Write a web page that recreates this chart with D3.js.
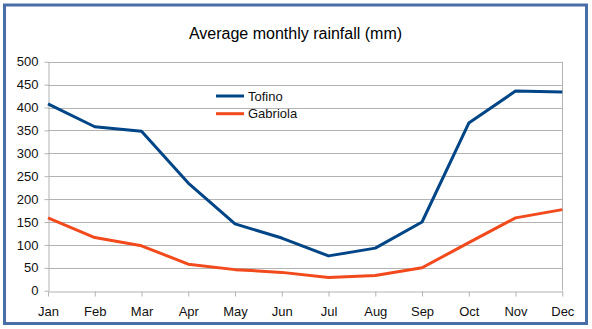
<!DOCTYPE html>
<html><head><meta charset="utf-8">
<script src="https://cdn.jsdelivr.net/npm/d3@7"></script>
<style>body{margin:0;background:#fff}svg{display:block;font-family:"Liberation Sans",Arial,sans-serif}</style>
</head><body><svg id="c" width="592" height="329"></svg>
<script>
const months = ["Jan","Feb","Mar","Apr","May","Jun","Jul","Aug","Sep","Oct","Nov","Dec"];
const tofino = [408,358,348,235,146,115,76,93,150,366,436,434];
const gabriola = [159,116,98,58,46,40,29,33,50,105,159,177];
const yTicks = [0,50,100,150,200,250,300,350,400,450,500];
const seriesNames = ["Tofino","Gabriola"];
const colors = ["#004586","#f24a1c"];

const svg = d3.select("#c");
svg.append("rect").attr("x",4.5).attr("y",5).attr("width",582).attr("height",318.5)
  .attr("fill","#fff").attr("stroke","#4a6fa8").attr("stroke-width",3);

const x = d3.scalePoint().domain(months).range([48,562.3]);
const y = d3.scaleLinear().domain([0,500]).range([290.7,61.7]);

svg.append("text").attr("x",295.5).attr("y",39).attr("text-anchor","middle")
  .attr("font-size",16).attr("fill","#000").text("Average monthly rainfall (mm)");

// grid
svg.append("g").selectAll("line").data(yTicks.filter(d=>d>0)).join("line")
  .attr("x1",48).attr("x2",562.3).attr("y1",d=>Math.round(y(d))+0.5).attr("y2",d=>Math.round(y(d))+0.5)
  .attr("stroke","#b3b3b3").attr("stroke-width",1);
svg.append("line").attr("x1",562.5).attr("x2",562.5).attr("y1",y(500)).attr("y2",y(0)).attr("stroke","#b3b3b3");

const yAxis = svg.append("g").attr("transform","translate(48.5,0)")
  .call(d3.axisLeft(y).tickValues(yTicks).tickSize(4).tickPadding(6).tickSizeOuter(0));
const xAxis = svg.append("g").attr("transform",`translate(0,${Math.round(y(0))+0.5})`)
  .call(d3.axisBottom(x).tickSize(5).tickPadding(10).tickSizeOuter(0));
[yAxis,xAxis].forEach(a=>{
  a.select(".domain").attr("stroke","#b3b3b3");
  a.selectAll(".tick line").attr("stroke","#b3b3b3");
  a.selectAll("text").attr("font-size",13).attr("fill","#111").attr("font-family","Liberation Sans, Arial, sans-serif");
});

const line = d3.line().x((d,i)=>x(months[i])).y(d=>y(d));
[tofino,gabriola].forEach((s,i)=>{
  svg.append("path").datum(s).attr("d",line).attr("fill","none")
    .attr("stroke",colors[i]).attr("stroke-width",3).attr("stroke-linejoin","round");
});

const leg = svg.append("g");
seriesNames.forEach((n,i)=>{
  const yy = 96 + i*17.7;
  leg.append("line").attr("x1",216).attr("x2",244).attr("y1",yy).attr("y2",yy)
    .attr("stroke",colors[i]).attr("stroke-width",3);
  leg.append("text").attr("x",248).attr("y",yy+4.5).attr("font-size",13).attr("fill","#111").text(n);
});
</script></body></html>
